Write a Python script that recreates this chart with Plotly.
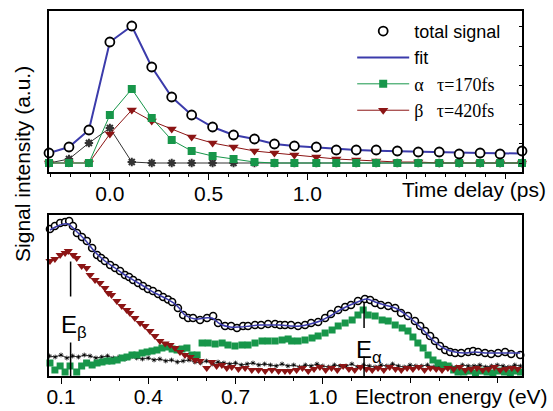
import plotly.graph_objects as go

# ---------------- top panel: time delay ----------------
t_ps = [-0.308, -0.207, -0.106, 0.0, 0.111, 0.212, 0.313, 0.414, 0.520, 0.626, 0.732, 0.833,
        0.934, 1.045, 1.146, 1.247, 1.348, 1.455, 1.561, 1.667, 1.768, 1.874, 1.975, 2.086]
top_total = [19, 25, 42, 130, 146, 105, 75, 57, 45, 37, 33, 28,
             26, 25, 22, 22, 22, 21, 20, 20, 18, 19, 18, 21]
top_fit = [19, 25, 42, 130, 146, 105, 75, 57, 45, 37, 33, 28,
           26, 24.5, 23, 22, 21.3, 20.7, 20.2, 19.7, 19.3, 19, 18.7, 18.5]
top_alpha = [9, 9, 9, 57, 83, 54, 32, 21, 16, 13, 10, 9,
             9, 9, 9, 9, 9, 9, 9, 9, 9, 9, 9, 9]
top_beta = [9, 9, 9, 38, 62, 51, 43, 35, 29, 25, 21, 19,
            17, 15, 13, 12, 11, 10, 10, 9, 9, 9, 9, 9]
top_cc = [9, 13, 29, 44, 10, 9, 9, 9, 9, 9, 9, 9,
          9, 9, 9, 9, 9, 9, 9, 9, 9, 9, 9, 9]

# ---------------- bottom panel: electron energy ----------------
e_total = [0.062, 0.079, 0.097, 0.114, 0.128, 0.141, 0.155, 0.172, 0.189, 0.207,
           0.224, 0.238, 0.251, 0.269, 0.286, 0.303, 0.320, 0.334, 0.348, 0.365,
           0.382, 0.399, 0.416, 0.434, 0.451, 0.468, 0.482, 0.502, 0.520, 0.537,
           0.554, 0.578, 0.602, 0.623, 0.640, 0.664, 0.685, 0.705, 0.726, 0.743,
           0.767, 0.788, 0.812, 0.836, 0.853, 0.870, 0.891, 0.915, 0.939, 0.960,
           0.984, 1.008, 1.028, 1.053, 1.077, 1.097, 1.121, 1.145, 1.163, 1.180,
           1.200, 1.225, 1.249, 1.269, 1.293, 1.317, 1.335, 1.352, 1.369, 1.386,
           1.403, 1.421, 1.438, 1.455, 1.476, 1.500, 1.517, 1.534, 1.558, 1.579,
           1.603, 1.627, 1.648, 1.679]
v_total = [147, 150, 153, 154, 155, 150, 143, 139, 135, 128,
           121, 118, 115, 111, 108, 105, 101, 99, 96, 93,
           90, 87, 85, 82, 79, 76.5, 74, 68, 61, 58,
           58, 56, 58, 60, 53, 50, 50, 48, 50, 50,
           51, 51, 52, 52, 51, 51, 51, 50, 51, 53,
           54, 58, 62, 66, 69, 71, 75, 77, 76, 73,
           71, 70, 68, 63, 60, 55, 50, 45, 40, 35,
           30, 26, 24, 23, 23, 24, 25, 24, 23, 22,
           23, 24, 22, 21]

e_fit = [0.062, 0.097, 0.124, 0.148, 0.183, 0.217, 0.251, 0.286, 0.320, 0.354,
         0.389, 0.423, 0.458, 0.492, 0.509, 0.526, 0.561, 0.595, 0.619, 0.647,
         0.681, 0.716, 0.750, 0.784, 0.819, 0.853, 0.888, 0.922, 0.956, 0.991,
         1.025, 1.059, 1.094, 1.128, 1.152, 1.180, 1.214, 1.249, 1.283, 1.317,
         1.352, 1.386, 1.421, 1.455, 1.489, 1.524, 1.558, 1.592, 1.627, 1.679]
v_fit = [146, 151, 152, 146, 136, 124, 115, 108, 101, 95,
         89, 83, 78, 72, 67, 61, 57, 58, 58, 52,
         49, 49, 50, 51, 51, 51, 50, 50, 52, 55,
         60, 66, 71, 75, 77, 74, 71, 68, 62, 54,
         44, 34, 27, 24, 23, 24, 23, 23, 23, 23]

e_beta = [0.062, 0.079, 0.097, 0.114, 0.125, 0.142, 0.154, 0.171, 0.188, 0.200,
          0.217, 0.234, 0.251, 0.263, 0.274, 0.292, 0.309, 0.326, 0.337, 0.354,
          0.372, 0.389, 0.406, 0.423, 0.440, 0.458, 0.475, 0.492, 0.509, 0.526,
          0.544, 0.561, 0.578, 0.601, 0.618, 0.635, 0.653, 0.670, 0.687, 0.710,
          0.733, 0.756, 0.779, 0.802, 0.825, 0.848, 0.870, 0.887,
          0.91, 0.93, 0.95, 0.97, 0.99, 1.01, 1.03, 1.05, 1.07, 1.09,
          1.11, 1.13, 1.15, 1.17, 1.19, 1.21, 1.23, 1.25, 1.27, 1.29,
          1.31, 1.33, 1.35, 1.37, 1.39, 1.41, 1.43, 1.45, 1.47, 1.49,
          1.51, 1.53, 1.55, 1.57, 1.59, 1.61, 1.63, 1.65, 1.67]
v_beta = [115, 117, 121, 123, 125, 121, 118, 110, 108, 101,
          96, 93, 88, 83, 81, 75, 70, 66, 63, 58,
          53, 50, 45, 40, 35, 32.5, 31, 28, 24, 21,
          19, 16, 15, 8, 14, 10, 11, 8, 9, 7,
          8, 6, 6, 5, 6, 5, 5, 5,
          6, 8, 5, 7, 9, 6, 8, 6, 10, 7,
          6, 9, 7, 6, 8, 6, 9, 7, 6, 8,
          7, 9, 6, 8, 7, 6, 8, 7, 9, 6,
          7, 8, 6, 7, 9, 6, 7, 8, 7]

e_alpha = [0.062, 0.079, 0.097, 0.114, 0.131, 0.154, 0.171, 0.188, 0.207, 0.224,
           0.241, 0.258, 0.275, 0.293, 0.310, 0.327, 0.344, 0.361, 0.379, 0.396,
           0.413, 0.430, 0.447, 0.465, 0.482, 0.499, 0.516, 0.533, 0.550, 0.568,
           0.585, 0.606, 0.630, 0.654, 0.674, 0.698, 0.722, 0.743, 0.767, 0.791,
           0.812, 0.836, 0.860, 0.881, 0.893, 0.915, 0.939, 0.963, 0.984, 1.008,
           1.032, 1.053, 1.077, 1.101, 1.121, 1.139, 1.156, 1.180, 1.204, 1.225,
           1.249, 1.273, 1.293, 1.310, 1.327, 1.345, 1.362, 1.379, 1.396, 1.414,
           1.431, 1.450, 1.465, 1.485, 1.505, 1.525, 1.545, 1.565, 1.585, 1.605,
           1.625, 1.645, 1.665, 1.680]
v_alpha = [13, 6, 10, 4, 10, 4, 10, 13, 11, 13,
           14, 15, 15, 16, 18, 19, 21, 21, 23, 24,
           25, 26, 28, 29, 27, 26, 27, 28, 21, 21,
           33, 33, 32, 33, 31, 30, 31, 31, 33, 35,
           35, 35, 36, 37, 35, 35, 36, 38, 40, 43,
           46, 50, 53, 56, 61, 66, 61, 60, 56, 55,
           51, 48, 45, 39, 33, 28, 21, 16, 13, 11,
           10, 6, 4, 4, 5, 3, 5, 4, 3, 5,
           4, 3, 5, 4]

e_cc = [0.06, 0.08, 0.10, 0.12, 0.14, 0.16, 0.18, 0.20, 0.22, 0.24,
        0.26, 0.28, 0.30, 0.32, 0.34, 0.36, 0.38, 0.40, 0.42, 0.44,
        0.46, 0.48, 0.50, 0.52, 0.54, 0.56, 0.58, 0.60, 0.62, 0.64,
        0.66, 0.68, 0.70, 0.72, 0.74, 0.76, 0.78, 0.80, 0.82, 0.84,
        0.86, 0.88, 0.90, 0.92, 0.94, 0.96, 0.98, 1.00, 1.02, 1.04,
        1.06, 1.08, 1.10, 1.12, 1.14, 1.16, 1.18, 1.20, 1.22, 1.24,
        1.26, 1.28, 1.30, 1.32, 1.34, 1.36, 1.38, 1.40, 1.42, 1.44,
        1.46, 1.48, 1.50, 1.52, 1.54, 1.56, 1.58, 1.60, 1.62, 1.64,
        1.66, 1.68]
v_cc = [20, 19, 21, 18, 20, 19, 21, 20, 18, 19,
        20, 18, 19, 17, 19, 18, 17, 18, 16, 17,
        15, 16, 14, 15, 16, 14, 13, 15, 12, 14,
        13, 12, 13, 11, 12, 13, 11, 12, 11, 10,
        12, 10, 11, 9, 11, 10, 12, 10, 9, 11,
        10, 10, 12, 9, 11, 10, 9, 11, 10, 12,
        10, 9, 11, 10, 10, 11, 9, 10, 12, 10,
        9, 11, 10, 10, 11, 9, 10, 11, 10, 9,
        11, 10]

E_BETA = 0.133
E_ALPHA = 1.142

time_ticks = [0.0, 0.5, 1.0]
time_labels = ["0.0", "0.5", "1.0"]
time_ticks_unlabeled = [1.5, 2.0]
energy_ticks = [0.1, 0.4, 0.7, 1.0]
energy_labels = ["0.1", "0.4", "0.7", "1.0"]
energy_ticks_unlabeled = [1.3, 1.6]

GREEN = "#17964a"
RED = "#8c1515"
BLUE = "#3b3bab"
SANS = "Liberation Sans, Arial, sans-serif"

fig = go.Figure()

# top panel traces
fig.add_trace(go.Scatter(x=t_ps, y=top_cc, mode="lines+markers", xaxis="x", yaxis="y",
                         line=dict(color="#333333", width=1),
                         marker=dict(symbol="asterisk-open", size=7, line=dict(color="black", width=2)),
                         showlegend=False, cliponaxis=False))
fig.add_trace(go.Scatter(x=t_ps, y=top_beta, mode="lines+markers", xaxis="x", yaxis="y",
                         name='<span style="font-family:Liberation Serif">β\u00a0\u00a0\u00a0τ=420fs</span>',
                         legendrank=4,
                         line=dict(color=RED, width=1),
                         marker=dict(symbol="triangle-down", size=9, color=RED),
                         cliponaxis=False))
fig.add_trace(go.Scatter(x=t_ps, y=top_alpha, mode="lines+markers", xaxis="x", yaxis="y",
                         name='<span style="font-family:Liberation Serif">α\u00a0\u00a0\u00a0τ=170fs</span>',
                         legendrank=3,
                         line=dict(color=GREEN, width=1),
                         marker=dict(symbol="square", size=8, color=GREEN),
                         cliponaxis=False))
fig.add_trace(go.Scatter(x=t_ps, y=top_fit, mode="lines", xaxis="x", yaxis="y",
                         name="fit", legendrank=2,
                         line=dict(color=BLUE, width=2), cliponaxis=False))
fig.add_trace(go.Scatter(x=t_ps, y=top_total, mode="markers", xaxis="x", yaxis="y",
                         name="total signal", legendrank=1,
                         marker=dict(symbol="circle", size=9, color="white",
                                     line=dict(color="black", width=1.8)),
                         cliponaxis=False))

# bottom panel traces
fig.add_trace(go.Scatter(x=e_cc, y=v_cc, mode="lines+markers", xaxis="x2", yaxis="y2",
                         line=dict(color="black", width=0.8),
                         marker=dict(symbol="asterisk-open", size=4, line=dict(color="black", width=0.8)),
                         showlegend=False))
fig.add_trace(go.Scatter(x=e_alpha, y=v_alpha, mode="markers", xaxis="x2", yaxis="y2",
                         marker=dict(symbol="square", size=7, color=GREEN),
                         showlegend=False, cliponaxis=False))
fig.add_trace(go.Scatter(x=e_beta, y=v_beta, mode="markers", xaxis="x2", yaxis="y2",
                         marker=dict(symbol="triangle-down", size=8, color=RED),
                         showlegend=False, cliponaxis=False))
fig.add_trace(go.Scatter(x=e_total, y=v_total, mode="markers", xaxis="x2", yaxis="y2",
                         marker=dict(symbol="circle", size=7, color="white",
                                     line=dict(color="black", width=1.6)),
                         showlegend=False, cliponaxis=False))
fig.add_trace(go.Scatter(x=e_fit, y=v_fit, mode="lines", xaxis="x2", yaxis="y2",
                         line=dict(color=BLUE, width=1.5, shape="spline"),
                         showlegend=False))

# empty traces that activate the helper axes (inner right ticks, unlabeled major ticks)
for xa, ya in (("x", "y3"), ("x3", "y"), ("x4", "y2")):
    fig.add_trace(go.Scatter(x=[None], y=[None], xaxis=xa, yaxis=ya, showlegend=False,
                             hoverinfo="skip"))

# E markers
for e, segs in ((E_BETA, [(79.5, 114.5), (0, 33.5)]), (E_ALPHA, [(48, 74), (0, 19.5)])):
    for y0, y1 in segs:
        fig.add_shape(type="line", xref="x2", yref="y2", x0=e, x1=e, y0=y0, y1=y1,
                      line=dict(color="black", width=1.5))

fig.add_annotation(x=0.146, y=49, xref="x2", yref="y2", text="E<sub>β</sub>", showarrow=False,
                   font=dict(family=SANS, size=24, color="black"))
fig.add_annotation(x=1.159, y=24, xref="x2", yref="y2", text="E<sub>α</sub>", showarrow=False,
                   font=dict(family=SANS, size=24, color="black"))

axis_common = dict(showline=True, linecolor="black", linewidth=1.5, mirror=True,
                   showgrid=False, zeroline=False, automargin=False)
tickfont = dict(family=SANS, size=21, color="black")
helper = dict(showline=False, showgrid=False, zeroline=False, automargin=False,
              showticklabels=False, tickcolor="black")

fig.update_layout(
    width=553, height=411,
    margin=dict(l=49, r=31, t=11, b=35, autoexpand=False),
    paper_bgcolor="white", plot_bgcolor="white",
    font=dict(family=SANS, color="black"),
    xaxis=dict(domain=[0, 1], anchor="y", range=[-0.308, 2.086], tickmode="array",
               tickvals=time_ticks, ticktext=time_labels, ticks="outside", ticklen=6,
               tickwidth=1.3, tickcolor="black", tickfont=tickfont, ticklabelstandoff=-4,
               minor=dict(dtick=0.1, tick0=0, ticks="outside", ticklen=3, tickcolor="black"),
               **axis_common),
    xaxis3=dict(overlaying="x", anchor="y", side="bottom", range=[-0.308, 2.086],
                tickmode="array", tickvals=time_ticks_unlabeled, ticks="outside",
                ticklen=6, tickwidth=1.3, **helper),
    yaxis=dict(domain=[0.5589, 1.0], anchor="x", range=[0, 161], showticklabels=False,
               ticks="", **axis_common),
    yaxis3=dict(overlaying="y", side="right", anchor="x", range=[0, 161], tickmode="linear",
                tick0=9, dtick=19.5, ticks="inside", ticklen=3, **helper),
    xaxis2=dict(domain=[0, 1], anchor="y2", range=[0.0587, 1.685], tickmode="array",
                tickvals=energy_ticks, ticktext=energy_labels, ticks="outside", ticklen=6,
                tickwidth=1.3, tickcolor="black", tickfont=tickfont, ticklabelstandoff=-5,
                minor=dict(dtick=0.1, tick0=0.1, ticks="outside", ticklen=3, tickcolor="black"),
                **axis_common),
    xaxis4=dict(overlaying="x2", anchor="y2", side="bottom", range=[0.0587, 1.685],
                tickmode="array", tickvals=energy_ticks_unlabeled, ticks="outside",
                ticklen=6, tickwidth=1.3, **helper),
    yaxis2=dict(domain=[0, 0.4411], anchor="x2", range=[0, 161], showticklabels=False,
                ticks="", **axis_common),
    legend=dict(x=0.641, y=0.995, xanchor="left", yanchor="top", bgcolor="rgba(0,0,0,0)",
                font=dict(family=SANS, size=18, color="black"), itemwidth=52,
                traceorder="normal"),
)

fig.add_annotation(x=1.055, y=0.5096, xref="paper", yref="paper", xanchor="right", yanchor="middle",
                   text="Time delay (ps)", showarrow=False, font=dict(family=SANS, size=21, color="black"))
fig.add_annotation(x=1.059, y=-0.0575, xref="paper", yref="paper", xanchor="right", yanchor="middle",
                   text="Electron energy (eV)", showarrow=False, font=dict(family=SANS, size=21, color="black"))
fig.add_annotation(x=-0.055, y=0.581, xref="paper", yref="paper", xanchor="center", yanchor="middle",
                   text="Signal intensity (a.u.)", textangle=-90, showarrow=False,
                   font=dict(family=SANS, size=21, color="black"))

fig.write_html("out.html", config={"displayModeBar": False},
               post_script="document.body.style.margin='0px';")
